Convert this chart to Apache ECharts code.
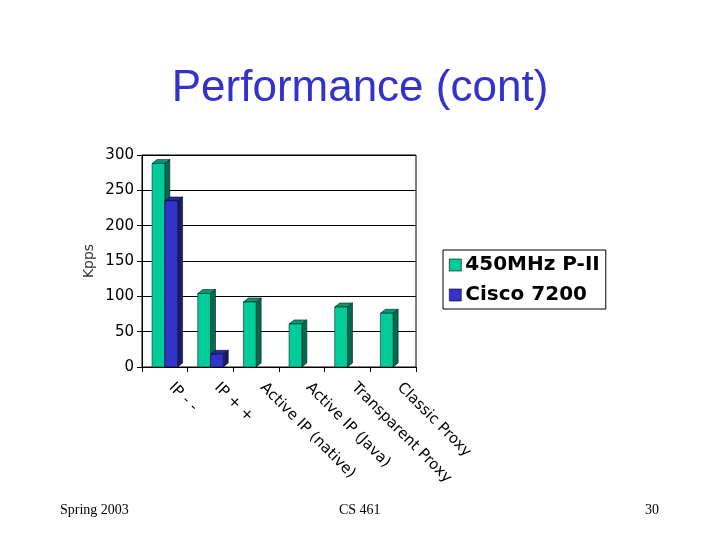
<!DOCTYPE html>
<html>
<head>
    <meta charset="utf-8"/>
    <style>
        html, body {
            height: 100%;
            margin: 0;
            padding: 0;
            background: #fff;
        }

        .container {
            width: 720px;
            height: 540px;
        }
    </style>
</head>
<body>
<div id="main" class="container"></div>
<script src="https://cdn.jsdelivr.net/npm/echarts@6/dist/echarts.min.js"></script>
<script type="text/javascript">
var categories = ['IP - -', 'IP + +', 'Active IP (native)', 'Active IP (Java)', 'Transparent Proxy', 'Classic Proxy'];
var pentiumValues = [288, 104, 92, 61, 85, 76];
var ciscoValues = [235, 18, 0, 0, 0, 0];
var yTicks = [0, 50, 100, 150, 200, 250, 300];

var myChart = echarts.init(document.getElementById('main'));

// 3D-ish bar: front face, right side and top
function barRenderer(leftOfCenter, front, side, top) {
    return function (params, api) {
        var idx = api.value(0);
        var val = api.value(1);
        if (!val) {
            return null;
        }
        var band = api.size([1, 0])[0];
        var base = api.coord([idx, 0]);
        var head = api.coord([idx, val]);
        var w = band * 0.28;
        var dx = 5, dy = 4;
        var x0 = leftOfCenter ? base[0] - w : base[0];
        var y0 = head[1], y1 = base[1];
        return {
            type: 'group',
            children: [
                {
                    type: 'polygon',
                    shape: {points: [[x0 + w, y0], [x0 + w + dx, y0 - dy], [x0 + w + dx, y1 - dy], [x0 + w, y1]]},
                    style: {fill: side, stroke: '#000', lineWidth: 0.5}
                },
                {
                    type: 'polygon',
                    shape: {points: [[x0, y0], [x0 + dx, y0 - dy], [x0 + w + dx, y0 - dy], [x0 + w, y0]]},
                    style: {fill: top, stroke: '#000', lineWidth: 0.5}
                },
                {
                    type: 'rect',
                    shape: {x: x0, y: y0, width: w, height: y1 - y0},
                    style: {fill: front, stroke: '#000', lineWidth: 0.5}
                }
            ]
        };
    };
}

var option = {
    animation: false,
    backgroundColor: '#fff',
    title: {
        text: 'Performance (cont)',
        left: 'center',
        top: 62,
        textStyle: {
            color: '#3333CC',
            fontFamily: 'Liberation Sans',
            fontSize: 44,
            fontWeight: 'normal'
        }
    },
    legend: {
        orient: 'vertical',
        left: 443,
        top: 250,
        padding: [5, 6, 4, 6],
        itemGap: 10,
        itemWidth: 12,
        itemHeight: 12,
        icon: 'rect',
        borderColor: '#000',
        borderWidth: 1,
        backgroundColor: '#fff',
        selectedMode: false,
        itemStyle: {borderColor: '#000', borderWidth: 0.6},
        textStyle: {
            color: '#000',
            fontFamily: 'DejaVu Sans',
            fontWeight: 'bold',
            fontSize: 20,
            lineHeight: 20,
            padding: [0, 0, 0, -1]
        },
        data: ['450MHz P-II', 'Cisco 7200']
    },
    grid: {
        left: 142,
        right: 304,
        top: 155,
        bottom: 173,
        show: true,
        borderColor: '#000',
        borderWidth: 1,
        backgroundColor: '#fff'
    },
    xAxis: {
        type: 'category',
        data: categories,
        boundaryGap: true,
        axisLine: {lineStyle: {color: '#000', width: 1}},
        axisTick: {show: true, length: 5, lineStyle: {color: '#000'}},
        axisLabel: {
            rotate: -45,
            margin: 12,
            padding: [0, 0, 0, 9],
            color: '#000',
            fontFamily: 'DejaVu Sans',
            fontSize: 15,
            interval: 0
        }
    },
    yAxis: {
        type: 'value',
        min: yTicks[0],
        max: yTicks[yTicks.length - 1],
        interval: 50,
        name: 'Kpps',
        nameLocation: 'middle',
        nameGap: 46,
        nameTextStyle: {color: '#333', fontFamily: 'DejaVu Sans', fontSize: 14},
        axisLine: {show: true, lineStyle: {color: '#000'}},
        axisTick: {show: true, length: 5, lineStyle: {color: '#000'}},
        splitLine: {show: true, lineStyle: {color: '#000', width: 1}},
        axisLabel: {
            color: '#000',
            fontFamily: 'DejaVu Sans',
            fontSize: 15,
            margin: 8
        }
    },
    series: [
        {
            name: '450MHz P-II',
            type: 'custom',
            itemStyle: {color: '#00CC99'},
            renderItem: barRenderer(true, '#00CC99', '#006B50', '#009973'),
            data: pentiumValues.map(function (v, i) { return [i, v]; }),
            z: 2
        },
        {
            name: 'Cisco 7200',
            type: 'custom',
            itemStyle: {color: '#3333CC'},
            renderItem: barRenderer(false, '#3333CC', '#1A1A66', '#26269E'),
            data: ciscoValues.map(function (v, i) { return [i, v]; }),
            z: 3
        }
    ],
    graphic: [
        {type: 'text', left: 60, top: 503, style: {text: 'Spring 2003', fontFamily: 'Liberation Serif', fontSize: 14, fill: '#000'}},
        {type: 'text', left: 339, top: 503, style: {text: 'CS 461', fontFamily: 'Liberation Serif', fontSize: 14, fill: '#000'}},
        {type: 'text', left: 645, top: 503, style: {text: '30', fontFamily: 'Liberation Serif', fontSize: 14, fill: '#000'}}
    ]
};

myChart.setOption(option);
</script>
</body>
</html>
